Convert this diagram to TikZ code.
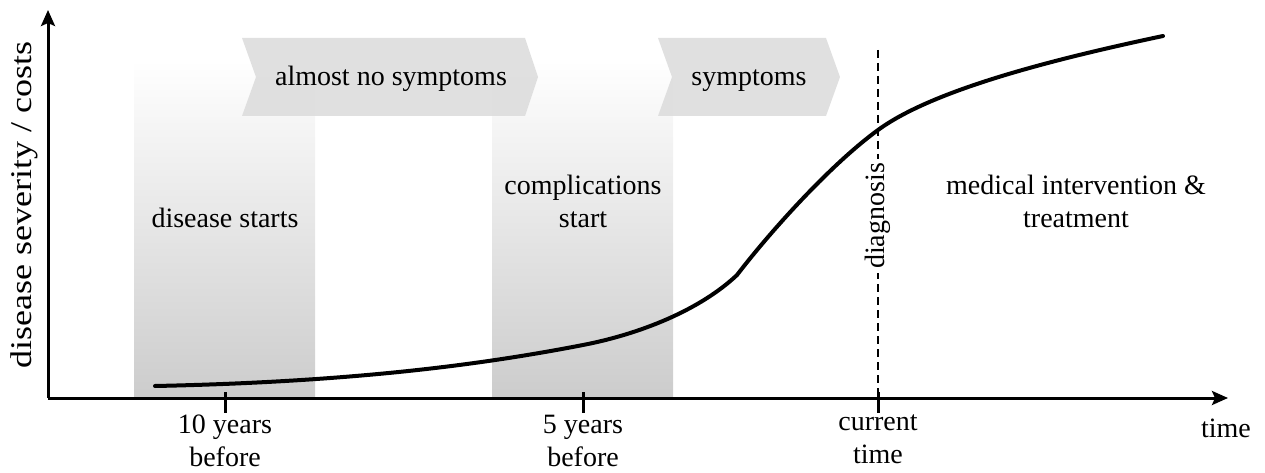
\documentclass[tikz,border=0pt]{standalone}
\usepackage{fontspec}
\usepackage{graphicx}
\setmainfont{Liberation Serif}
\usetikzlibrary{arrows.meta}
\begin{document}
\begin{tikzpicture}[x=1pt,y=-1pt,
  lbl/.style={font=\fontsize{28}{33}\selectfont, align=center, inner sep=0pt},
  band/.style={top color=white, bottom color=gray!40, draw=none},
  chev/.style={fill=black!14, fill opacity=0.85, draw=none},
  axis/.style={line width=3pt, -{Stealth[length=16pt,width=14pt,inset=3pt]}},
  tickmark/.style={line width=3pt},
  curve/.style={line width=4pt, line cap=round},
  diag/.style={line width=2.2pt, dash pattern=on 8pt off 5pt}]
\useasboundingbox (0,0) rectangle (1265,473);
% shaded bands
\fill[band] (134,60) rectangle (315,398);
\fill[band] (492,60) rectangle (673,398);
% chevrons
\fill[chev] (242,38) -- (525,38) -- (538,77) -- (525,116) -- (242,116) -- (256,77) -- cycle;
\fill[chev] (658,38) -- (826,38) -- (840,77) -- (826,116) -- (658,116) -- (672,77) -- cycle;
\node[lbl, anchor=base] (ans) at (391,86) {almost no symptoms};
\node[lbl, anchor=base] (sym) at (749,86) {symptoms};
% band texts
\node[lbl] (ds) at (225,218) {disease starts};
\node[lbl] (cs) at (583,201) {complications\\start};
\node[lbl] (mi) at (1076,201) {medical intervention \&\\treatment};
% axes
\coordinate (O) at (48,398);
\coordinate (ytip) at (48,10);
\coordinate (xtip) at (1228,398);
\draw[axis] (O) -- (ytip);
\draw[axis] (O) -- (xtip);
\node[lbl, rotate=90] (ylab) at (24,205) {\fontsize{30}{34}\selectfont\scalebox{1.2}[1]{disease severity / costs}};
\node[lbl] (tlab) at (1226,428) {time};
% ticks
\coordinate (t1a) at (225,392); \coordinate (t1b) at (225,413);
\coordinate (t2a) at (583,392); \coordinate (t2b) at (583,413);
\coordinate (t3a) at (878,392); \coordinate (t3b) at (878,413);
\draw[tickmark] (t1a) -- (t1b);
\draw[tickmark] (t2a) -- (t2b);
\draw[tickmark] (t3a) -- (t3b);
\node[lbl, anchor=north] (l1) at (225,415) {10 years\\before};
\node[lbl, anchor=north] (l2) at (583,415) {5 years\\before};
\node[lbl, anchor=north] (l3) at (878,415) {current\\time};
% diagnosis line
\coordinate (dtop) at (878,50);
\draw[diag] (dtop) -- (t3a);
\node[lbl, rotate=90, fill=white, inner sep=4pt] (dg) at (878,216) {diagnosis};
% curve
\coordinate (c0) at (155,386);
\coordinate (c1) at (583,345);
\coordinate (c2) at (737,275);
\coordinate (c3) at (878,130);
\coordinate (c4) at (1163,36);
\draw[curve] (c0) .. controls (350,382) and (480,365) .. (c1)
  .. controls (640,334) and (700,310) .. (c2)
  .. controls (770,232) and (830,165) .. (c3)
  .. controls (930,92) and (1040,62) .. (c4);
\end{tikzpicture}
\end{document}
